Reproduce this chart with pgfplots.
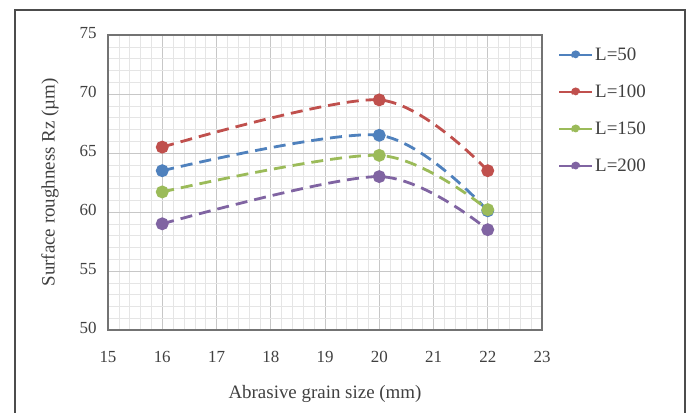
\documentclass[border=0pt]{standalone}
\usepackage{pgfplots}
\pgfplotsset{compat=1.18}
\usepackage{fontspec}
\setmainfont{Liberation Serif}
\definecolor{cBlue}{HTML}{4F81BD}
\definecolor{cRed}{HTML}{C0504D}
\definecolor{cGreen}{HTML}{9BBB59}
\definecolor{cPurple}{HTML}{8064A2}
\begin{document}
\begin{tikzpicture}[x=1bp,y=1bp]
\fill[white] (-108,-82) rectangle (580,330);
\useasboundingbox (-108,-82) rectangle (580,330);
\draw[line width=2bp, black!70] (-93,-95) rectangle (577,320);
\begin{axis}[
  at={(0,0)}, anchor=south west,
  scale only axis, width=434bp, height=295bp,
  xmin=15, xmax=23, ymin=50, ymax=75,
  xtick={15,...,23}, ytick={50,55,...,75},
  minor x tick num=4, minor y tick num=4,
  grid=both,
  major grid style={black!22, line width=0.6bp},
  minor grid style={black!10, line width=0.5bp},
  axis line style={black!55, line width=1.4bp},
  tick style={draw=none},
  /pgf/number format/assume math mode=true,
  ticklabel style={font=\fontsize{17}{17}\selectfont, text=black!75},
  xticklabel style={yshift=-18bp},
  yticklabel style={xshift=-8bp, yshift=2bp},
  xlabel={Abrasive grain size (mm)},
  ylabel={Surface roughness Rz (\textmu m)},
  xlabel style={font=\fontsize{19}{19}\selectfont, text=black!75, yshift=-16bp},
  ylabel style={font=\fontsize{19}{19}\selectfont, text=black!75, yshift=14bp},
  legend style={at={(1.03,0.97)}, anchor=north west, draw=none, fill=none,
    font=\fontsize{19}{19}\selectfont, text=black!75, row sep=19bp},
  legend cell align=left,
  legend image code/.code={\draw[#1, solid, line width=2bp] (0,0) -- (33bp,0);
    \fill[#1] (16.5bp,0) circle (3.2bp);},
]
\addplot[cBlue, dashed, dash pattern=on 12bp off 7bp, line width=2.8bp, smooth, tension=0.5, mark=*, mark size=5bp, mark options={solid}]
  coordinates {(16,63.5) (20,66.5) (22,60.1)};
\addlegendentry{L=50}
\addplot[cRed, dashed, dash pattern=on 12bp off 7bp, line width=2.8bp, smooth, tension=0.5, mark=*, mark size=5bp, mark options={solid}]
  coordinates {(16,65.5) (20,69.5) (22,63.5)};
\addlegendentry{L=100}
\addplot[cGreen, dashed, dash pattern=on 12bp off 7bp, line width=2.8bp, smooth, tension=0.5, mark=*, mark size=5bp, mark options={solid}]
  coordinates {(16,61.7) (20,64.8) (22,60.2)};
\addlegendentry{L=150}
\addplot[cPurple, dashed, dash pattern=on 12bp off 7bp, line width=2.8bp, smooth, tension=0.5, mark=*, mark size=5bp, mark options={solid}]
  coordinates {(16,59.0) (20,63.0) (22,58.5)};
\addlegendentry{L=200}
\end{axis}
\end{tikzpicture}
\end{document}
